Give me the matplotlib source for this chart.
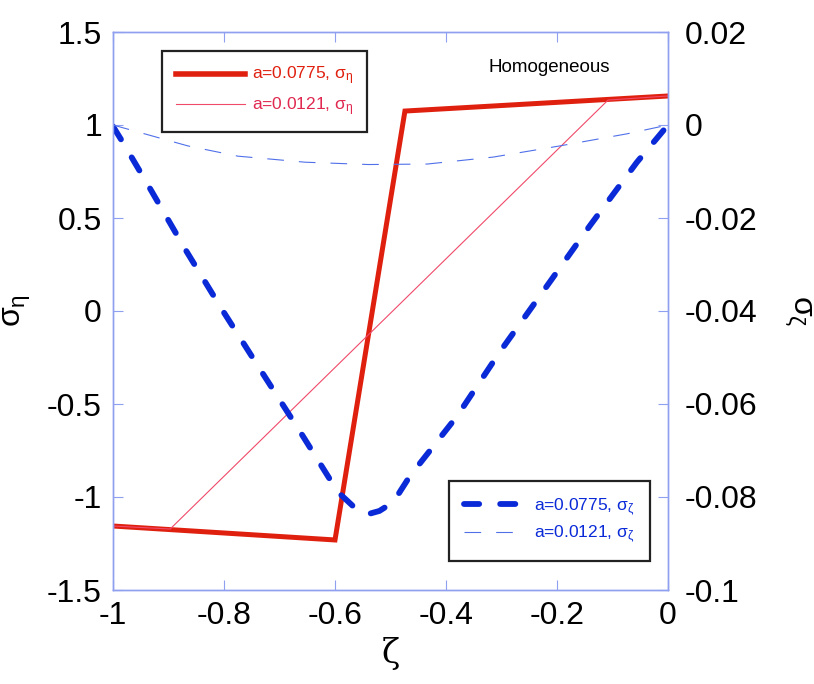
import numpy as np
import matplotlib
matplotlib.use("Agg")
import matplotlib.pyplot as plt

plt.rcParams['font.family'] = ['Liberation Sans', 'DejaVu Sans']
plt.rcParams['mathtext.fontset'] = 'custom'
plt.rcParams['mathtext.rm'] = 'Liberation Sans'
plt.rcParams['mathtext.it'] = 'Liberation Sans'
plt.rcParams['axes.unicode_minus'] = False

# sigma_eta (left axis)
zeta_thick_eta = [-1.0, -0.6, -0.474, 0.0]
sigma_eta_thick = [-1.156, -1.231, 1.075, 1.156]
zeta_thin_eta = [-1.0, -0.897, -0.108, 0.0]
sigma_eta_thin = [-1.156, -1.172, 1.134, 1.156]

# sigma_zeta (right axis)
zeta_thick_z = [-1.0, -0.984, -0.936, -0.870, -0.804, -0.732, -0.660, -0.595,
                -0.560, -0.541, -0.520, -0.495, -0.465, -0.380, -0.303, -0.218,
                -0.141, -0.056, 0.0]
sigma_z_thick = [-0.0003, -0.0034, -0.0131, -0.0267, -0.0396, -0.0531, -0.0665,
                 -0.0789, -0.0828, -0.0837, -0.0830, -0.0811, -0.0755, -0.0626,
                 -0.0488, -0.0346, -0.0217, -0.0080, 0.0]
zeta_thin_z = [-1.0, -0.955, -0.865, -0.775, -0.654, -0.540, -0.434, -0.315,
               -0.195, -0.074, 0.0]
sigma_z_thin = [0.0, -0.0015, -0.0045, -0.0067, -0.0080, -0.0085, -0.0084,
                -0.0069, -0.0045, -0.0019, 0.0]

x_ticks = [-1, -0.8, -0.6, -0.4, -0.2, 0]
x_tick_labels = ["-1", "-0.8", "-0.6", "-0.4", "-0.2", "0"]
left_ticks = [-1.5, -1, -0.5, 0, 0.5, 1, 1.5]
left_tick_labels = ["-1.5", "-1", "-0.5", "0", "0.5", "1", "1.5"]
right_ticks = [-0.1, -0.08, -0.06, -0.04, -0.02, 0, 0.02]
right_tick_labels = ["-0.1", "-0.08", "-0.06", "-0.04", "-0.02", "0", "0.02"]

labels = ["a=0.0775, $\\sigma_\\eta$", "a=0.0121, $\\sigma_\\eta$",
          "a=0.0775, $\\sigma_\\zeta$", "a=0.0121, $\\sigma_\\zeta$"]

spine_col = "#90a0f0"
red = "#e0200f"
pink = "#f04a6a"
blue = "#0a2ad8"
lblue = "#5070ea"

fig = plt.figure(figsize=(8.14, 6.84), dpi=100)
ax = fig.add_axes([113 / 814, 94 / 684, 555 / 814, 558 / 684])
ax2 = ax.twinx()

l1, = ax.plot(zeta_thick_eta, sigma_eta_thick, color=red, lw=3.6, solid_joinstyle='miter')
l2, = ax.plot(zeta_thin_eta, sigma_eta_thin, color=pink, lw=0.8)
l3, = ax2.plot(zeta_thick_z, sigma_z_thick, color=blue, lw=4.2,
               dashes=(2.6, 3.6), dash_capstyle='round')
l4, = ax2.plot(zeta_thin_z, sigma_z_thin, color=lblue, lw=0.8, dashes=(15, 13.5))

ax.set_xlim(-1, 0)
ax.set_ylim(-1.5, 1.5)
ax2.set_ylim(-0.1, 0.02)
ax.set_xticks(x_ticks, x_tick_labels)
ax.set_yticks(left_ticks, left_tick_labels)
ax2.set_yticks(right_ticks, right_tick_labels)

for a in (ax, ax2):
    for s in a.spines.values():
        s.set_color(spine_col)
        s.set_linewidth(1.0)
ax.tick_params(axis='both', direction='in', length=7, width=0.8, color=spine_col,
               labelsize=23, top=True, right=False)
ax.tick_params(axis='x', pad=8)
ax.tick_params(axis='y', pad=8)
ax2.tick_params(axis='y', direction='in', length=7, width=0.8, color=spine_col,
                labelsize=23, pad=12)

ax.set_xlabel("ζ", fontsize=24, family='DejaVu Serif', labelpad=4)
ax.set_ylabel("$\\sigma_\\eta$", fontsize=23, labelpad=10)
ax2.set_ylabel("$\\sigma_\\zeta$", fontsize=23, rotation=270, labelpad=40)

ax2.text(0.786, 0.937, "Homogeneous", transform=ax.transAxes, fontsize=13.5,
         ha='center', va='center')

leg1 = ax2.legend([l1, l2], labels[:2], loc='upper left',
                  bbox_to_anchor=(0.088, 0.966), borderaxespad=0,
                  fontsize=12.5, handlelength=4.0,
                  handletextpad=0.4, borderpad=0.8, labelspacing=0.45,
                  fancybox=False, framealpha=1, edgecolor='#222222')
leg1.get_frame().set_linewidth(1.6)
for t, c in zip(leg1.get_texts(), [red, '#e02850']):
    t.set_color(c)
leg1.get_lines()[0].set_linewidth(4.0)
ax2.add_artist(leg1)

leg2 = ax2.legend([l3, l4], labels[2:], loc='lower right',
                  bbox_to_anchor=(0.9676, 0.052), borderaxespad=0,
                  fontsize=12.5, handlelength=3.4,
                  handletextpad=0.6, borderpad=0.9, labelspacing=0.35,
                  fancybox=False, framealpha=1, edgecolor='#222222')
leg2.get_frame().set_linewidth(1.6)
for t in leg2.get_texts():
    t.set_color(blue)

fig.savefig("out.png", dpi=100)
